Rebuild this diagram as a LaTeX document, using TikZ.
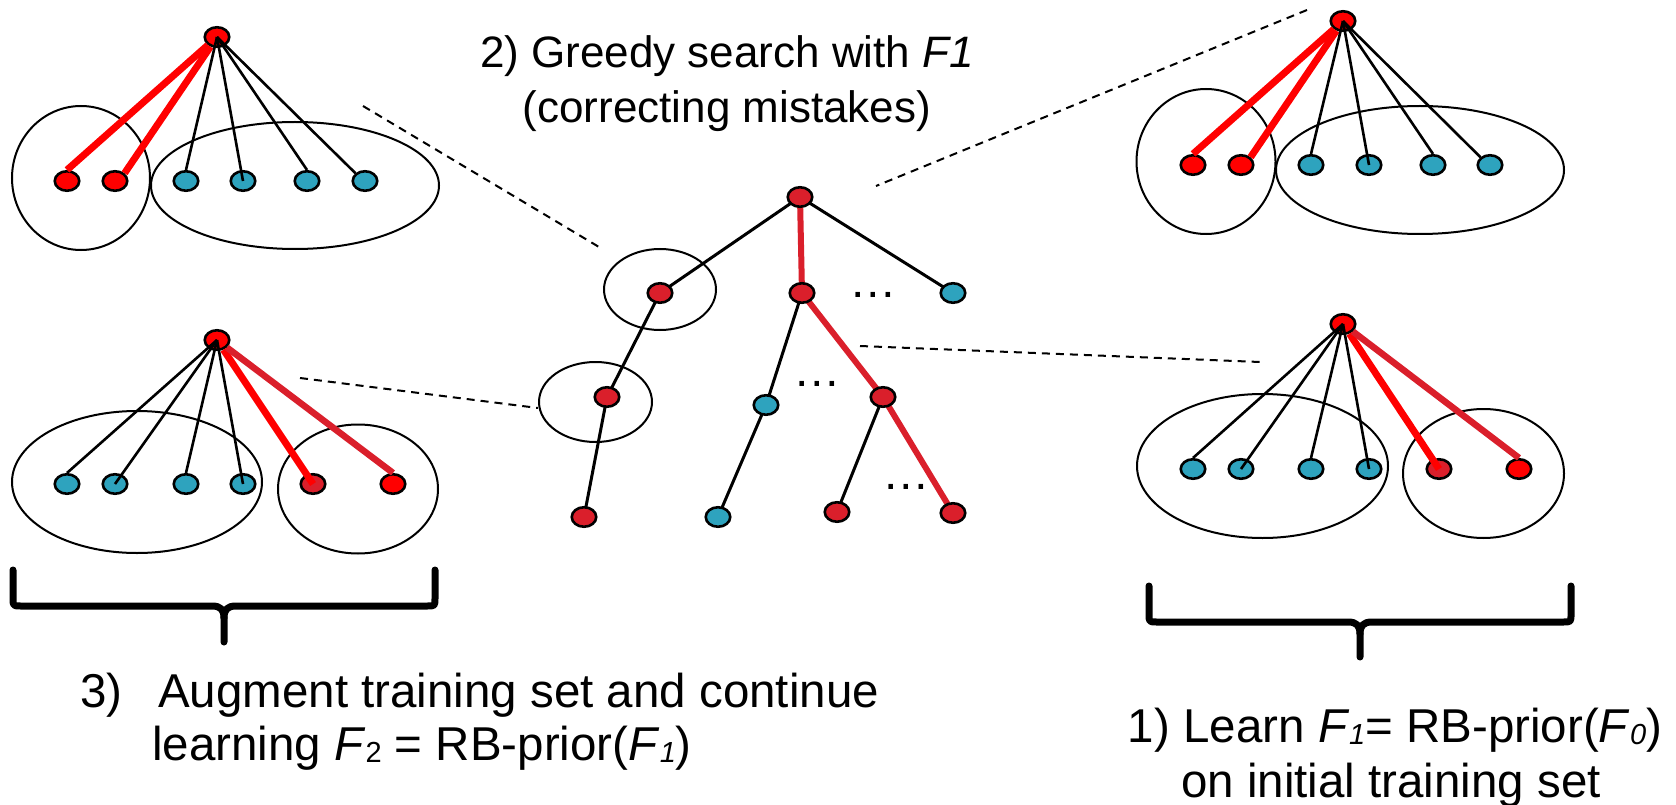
\documentclass[tikz,border=0pt]{standalone}
\usepackage{fontspec}
\setmainfont{Liberation Sans}
\usetikzlibrary{shapes.geometric}
\pgfdeclarelayer{bg}
\pgfsetlayers{bg,main}

\definecolor{bred}{RGB}{255,0,0}
\definecolor{dred}{RGB}{218,31,43}
\definecolor{tcyan}{RGB}{46,163,190}

\newcommand\subsc[1]{\raisebox{-2pt}{\fontsize{29}{29}\selectfont #1}}

\tikzset{
  vtx/.style={ellipse, draw=black, line width=2.6pt, minimum width=24.5pt, minimum height=19.5pt, inner sep=0pt},
  rv/.style={vtx, fill=bred},
  dv/.style={vtx, fill=dred},
  cv/.style={vtx, fill=tcyan},
  grp/.style={ellipse, draw=black, line width=2pt, inner sep=0pt},
  blk/.style={draw=black, line width=2.6pt},
  cblk/.style={draw=black, line width=3pt},
  redge/.style={draw=bred, line width=7pt},
  dedge/.style={draw=dred, line width=6.5pt},
  guide/.style={draw=black, line width=2pt, dash pattern=on 8pt off 6pt},
  brace/.style={draw=black, line width=7pt, line cap=round, line join=round},
  lbl/.style={inner sep=0pt, font=\fontsize{47.5}{53}\selectfont},
  ttl/.style={inner sep=0pt, font=\fontsize{44}{50}\selectfont},
  dots/.style={inner sep=0pt, anchor=base, font=\fontsize{47.5}{53}\selectfont},
}

\begin{document}
\begin{tikzpicture}[x=1pt, y=-1pt]
\useasboundingbox (0,0) rectangle (1676,805);

% ---------- title ----------
\node[ttl, anchor=base] (t1) at (727,68) {2) Greedy search with \textit{F1}};
\node[ttl, anchor=base] (t2) at (727,123) {(correcting mistakes)};

% ---------- upper-left tree ----------
\node[grp, minimum width=138pt, minimum height=144pt] (ulA) at (81,178) {};
\node[grp, minimum width=288pt, minimum height=127pt] (ulB) at (295,185.5) {};
\node[rv] (ul)  at (217,37) {};
\node[rv] (ul1) at (67,181) {};
\node[rv] (ul2) at (115,181) {};
\node[cv] (ul3) at (186,181) {};
\node[cv] (ul4) at (243,181) {};
\node[cv] (ul5) at (307,181) {};
\node[cv] (ul6) at (365,181) {};
\draw[redge] (ul) -- (ul1.north);
\draw[redge] (ul) -- (ul2.north east);
\draw[blk] (ul.center) -- (ul3.north);
\draw[blk] (ul.center) -- (ul4.center);
\draw[blk] (ul.center) -- (ul5.north);
\draw[blk] (ul.center) -- (ul6.north west);

% ---------- upper-right tree ----------
\node[grp, minimum width=139pt, minimum height=145pt] (urA) at (1206,161.5) {};
\node[grp, minimum width=288pt, minimum height=128pt] (urB) at (1420,170) {};
\node[rv] (ur)  at (1343,21) {};
\node[rv] (ur1) at (1193,165) {};
\node[rv] (ur2) at (1241,165) {};
\node[cv] (ur3) at (1311,165) {};
\node[cv] (ur4) at (1369,165) {};
\node[cv] (ur5) at (1433,165) {};
\node[cv] (ur6) at (1490,165) {};
\draw[redge] (ur) -- (ur1.north);
\draw[redge] (ur) -- (ur2.north east);
\draw[blk] (ur.center) -- (ur3.north);
\draw[blk] (ur.center) -- (ur4.center);
\draw[blk] (ur.center) -- (ur5.north);
\draw[blk] (ur.center) -- (ur6.north west);

% ---------- lower-left tree ----------
\node[grp, minimum width=250pt, minimum height=142pt] (llA) at (137,482) {};
\node[grp, minimum width=160pt, minimum height=129pt] (llB) at (358,489) {};
\node[rv] (ll)  at (217,340) {};
\node[cv] (ll1) at (67,484) {};
\node[cv] (ll2) at (115,484) {};
\node[cv] (ll3) at (186,484) {};
\node[cv] (ll4) at (243,484) {};
\node[dv] (ll5) at (313,484) {};
\node[rv] (ll6) at (393,484) {};
\draw[blk] (ll.center) -- (ll1.north);
\draw[blk] (ll.center) -- (ll2.center);
\draw[blk] (ll.center) -- (ll3.north);
\draw[blk] (ll.center) -- (ll4.center);
\draw[redge] (ll) -- (ll5.center);
\draw[dedge] (ll) -- (ll6.north);

% ---------- lower-right tree ----------
\node[grp, minimum width=251pt, minimum height=144pt] (lrA) at (1262.5,466) {};
\node[grp, minimum width=161pt, minimum height=129pt] (lrB) at (1483.5,473.5) {};
\node[rv] (lr)  at (1343,324) {};
\node[cv] (lr1) at (1193,469) {};
\node[cv] (lr2) at (1241,469) {};
\node[cv] (lr3) at (1311,469) {};
\node[cv] (lr4) at (1369,469) {};
\node[dv] (lr5) at (1439,469) {};
\node[rv] (lr6) at (1519,469) {};
\draw[blk] (lr.center) -- (lr1.north);
\draw[blk] (lr.center) -- (lr2.center);
\draw[blk] (lr.center) -- (lr3.north);
\draw[blk] (lr.center) -- (lr4.center);
\draw[redge] (lr) -- (lr5.center);
\draw[dedge] (lr) -- (lr6.north);

% ---------- search tree in the middle ----------
\node[grp, minimum width=112pt, minimum height=81pt] (ca) at (660,289.5) {};
\node[grp, minimum width=113pt, minimum height=80pt] (cd) at (595.5,402) {};
\node[dv] (r) at (800,197) {};
\node[dv] (a) at (660,293) {};
\node[dv] (b) at (802,293) {};
\node[cv] (c) at (953,293) {};
\node[dv] (d) at (607,397) {};
\node[cv] (e) at (766,405) {};
\node[dv] (f) at (883,397) {};
\node[dv] (g) at (584,517) {};
\node[cv] (h) at (718,517) {};
\node[dv] (i) at (837,512) {};
\node[dv] (j) at (953,513) {};
\begin{pgfonlayer}{bg}
  \draw[cblk] (r.center) -- (a.center);
  \draw[dedge, line width=6pt] (r.center) -- (b.center);
  \draw[cblk] (r.center) -- (c.center);
  \draw[cblk] (a.center) -- (d.center);
  \draw[cblk] (d.center) -- (g.center);
  \draw[cblk] (b.center) -- (e.center);
  \draw[dedge, line width=6pt] (b.center) -- (f.center);
  \draw[cblk] (e.center) -- (h.center);
  \draw[cblk] (f.center) -- (i.center);
  \draw[dedge, line width=6pt] (f.center) -- (j.center);
\end{pgfonlayer}
\node[dots] (dots1) at (873,297) {…};
\node[dots] (dots2) at (817,386) {…};
\node[dots] (dots3) at (906,489) {…};

% ---------- dashed leaders ----------
\coordinate (gulA) at (363,106);  \coordinate (gulB) at (599,247);
\coordinate (gurA) at (1307,10);  \coordinate (gurB) at (876,186);
\coordinate (gllA) at (300,378);  \coordinate (gllB) at (538,408);
\coordinate (glrA) at (860,346);  \coordinate (glrB) at (1260,362);
\draw[guide] (gulA) -- (gulB);
\draw[guide] (gurA) -- (gurB);
\draw[guide] (gllA) -- (gllB);
\draw[guide] (glrA) -- (glrB);

% ---------- braces ----------
\draw[brace] (13,570) -- (13,598) .. controls (13,606) .. (21,606) -- (212,606)
  .. controls (221,606) and (224,610) .. (224,618) -- (224,642);
\draw[brace] (435,570) -- (435,598) .. controls (435,606) .. (427,606) -- (236,606)
  .. controls (227,606) and (224,610) .. (224,618);
\draw[brace] (1149,586) -- (1149,614) .. controls (1149,622) .. (1157,622) -- (1348,622)
  .. controls (1357,622) and (1360,626) .. (1360,634) -- (1360,657);
\draw[brace] (1571,586) -- (1571,614) .. controls (1571,622) .. (1563,622) -- (1372,622)
  .. controls (1363,622) and (1360,626) .. (1360,634);

% ---------- captions ----------
\node[lbl, anchor=base west] (s3n) at (80,707) {3)};
\node[lbl, anchor=base west] (s3a) at (158,707) {Augment training set and continue};
\node[lbl, anchor=base west] (s3b) at (152,760) {learning \textit{F}\subsc{2} = RB-prior(\textit{F}\subsc{\textit{1}})};
\node[lbl, anchor=base] (s1a) at (1395,742) {1) Learn \textit{F}\subsc{\textit{1}}= RB-prior(\textit{F}\subsc{\textit{0}})};
\node[lbl, anchor=base] (s1b) at (1391,797) {on initial training set};
\end{tikzpicture}
\end{document}
